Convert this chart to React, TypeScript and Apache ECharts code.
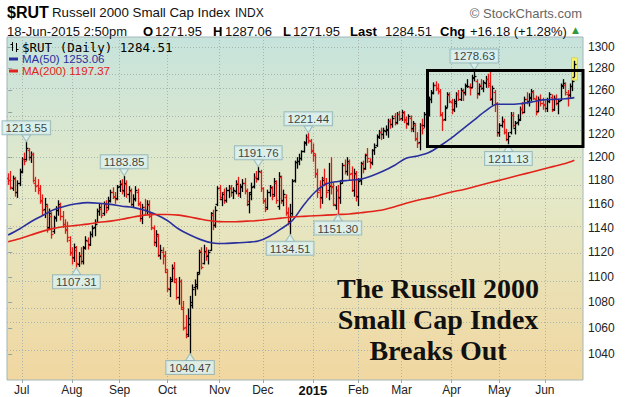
import React, { useEffect, useRef } from "react";
import * as echarts from "echarts";

// ---------------- DATA ----------------
// Daily OHLC bars [open, high, low, close], one array per month (Jun 23 2014 .. Jun 18 2015)
const jun14 = [
  [1182, 1186, 1176, 1180], [1180, 1188, 1172, 1174], [1173, 1184, 1171, 1182], [1181, 1183, 1166, 1170], [1170, 1180, 1165, 1178], [1178, 1190, 1175, 1187],
];
const jul14 = [
  [1188, 1200, 1186, 1198], [1198, 1204, 1193, 1197], [1198, 1213.55, 1197, 1208], [1206, 1208, 1197, 1200], [1200, 1205, 1195, 1203],
  [1203, 1204, 1178, 1180], [1178, 1183, 1170, 1175], [1176, 1181, 1168, 1172], [1173, 1176, 1160, 1163], [1162, 1168, 1150, 1155],
  [1156, 1165, 1148, 1160], [1158, 1160, 1136, 1140], [1141, 1156, 1139, 1152], [1150, 1153, 1131, 1135], [1137, 1150, 1135, 1148],
  [1149, 1158, 1145, 1155], [1155, 1163, 1150, 1160], [1158, 1161, 1146, 1150], [1150, 1154, 1140, 1143], [1143, 1147, 1135, 1138],
  [1139, 1145, 1128, 1132], [1130, 1133, 1117, 1120],
];
const aug14 = [
  [1119, 1124, 1110, 1115], [1116, 1127, 1112, 1124], [1122, 1125, 1107.31, 1111], [1110, 1120, 1108, 1117], [1118, 1124, 1110, 1113],
  [1113, 1125, 1110, 1123], [1124, 1133, 1122, 1130], [1129, 1132, 1122, 1126], [1127, 1137, 1125, 1135], [1135, 1142, 1132, 1140],
  [1141, 1147, 1133, 1143], [1145, 1156, 1144, 1154], [1154, 1160, 1150, 1157], [1156, 1160, 1148, 1151], [1152, 1162, 1150, 1160],
  [1160, 1163, 1152, 1155], [1157, 1166, 1155, 1162], [1163, 1172, 1161, 1170], [1170, 1174, 1164, 1167], [1166, 1170, 1160, 1164],
  [1165, 1176, 1163, 1174],
];
const sep14 = [
  [1175, 1180, 1170, 1177], [1178, 1181, 1168, 1171], [1172, 1183.85, 1166, 1178], [1177, 1180, 1165, 1168], [1168, 1175, 1161, 1172],
  [1171, 1173, 1158, 1160], [1160, 1168, 1157, 1165], [1164, 1175, 1162, 1172], [1170, 1173, 1158, 1161], [1160, 1162, 1145, 1148],
  [1148, 1160, 1143, 1157], [1157, 1164, 1150, 1155], [1155, 1163, 1151, 1160], [1159, 1163, 1148, 1152], [1150, 1152, 1138, 1141],
  [1140, 1142, 1125, 1128], [1128, 1138, 1124, 1135], [1133, 1135, 1116, 1118], [1118, 1126, 1114, 1122], [1120, 1124, 1110, 1118],
  [1117, 1121, 1103, 1106],
];
const oct14 = [
  [1104, 1106, 1088, 1091], [1090, 1100, 1084, 1097], [1098, 1110, 1096, 1107], [1108, 1112, 1095, 1098], [1096, 1099, 1082, 1084],
  [1084, 1100, 1078, 1097], [1097, 1098, 1074, 1076], [1075, 1081, 1058, 1060], [1061, 1070, 1052, 1054], [1055, 1075, 1053, 1068],
  [1063, 1085, 1040.47, 1080], [1078, 1094, 1075, 1090], [1092, 1098, 1085, 1094], [1093, 1104, 1090, 1102], [1104, 1122, 1102, 1120],
  [1121, 1124, 1106, 1108], [1111, 1126, 1110, 1121], [1120, 1124, 1113, 1118], [1117, 1122, 1110, 1120], [1122, 1153, 1121, 1152],
  [1151, 1155, 1138, 1143], [1142, 1158, 1140, 1155], [1160, 1175, 1158, 1173],
];
const nov14 = [
  [1173, 1176, 1163, 1166], [1164, 1170, 1158, 1168], [1170, 1173, 1160, 1163], [1163, 1174, 1161, 1172], [1172, 1176, 1165, 1173],
  [1173, 1176, 1166, 1170], [1170, 1174, 1164, 1172], [1171, 1180, 1168, 1177], [1178, 1183, 1166, 1169], [1169, 1177, 1165, 1175],
  [1174, 1181, 1170, 1178], [1178, 1182, 1168, 1172], [1171, 1173, 1158, 1162], [1160, 1170, 1152, 1168], [1170, 1178, 1163, 1174],
  [1175, 1186, 1173, 1183], [1183, 1188, 1178, 1181], [1182, 1191.76, 1180, 1188], [1187, 1189, 1170, 1173],
];
const dec14 = [
  [1173, 1174, 1160, 1163], [1162, 1165, 1153, 1156], [1157, 1172, 1155, 1170], [1170, 1176, 1166, 1174], [1173, 1175, 1163, 1167],
  [1168, 1182, 1166, 1179], [1178, 1180, 1160, 1163], [1158, 1187, 1155, 1184], [1183, 1184, 1160, 1162], [1163, 1172, 1158, 1168],
  [1166, 1168, 1150, 1152], [1153, 1157, 1142, 1146], [1146, 1160, 1134.51, 1150], [1152, 1181, 1150, 1179], [1180, 1197, 1178, 1196],
  [1196, 1200, 1190, 1197], [1197, 1203, 1193, 1199], [1199, 1206, 1197, 1205], [1205, 1214, 1204, 1212], [1213, 1220, 1210, 1218],
  [1218, 1221.44, 1212, 1215], [1214, 1216, 1203, 1205],
];
const jan15 = [
  [1206, 1212, 1196, 1204], [1202, 1203, 1182, 1185], [1186, 1190, 1165, 1170], [1172, 1180, 1156, 1165], [1166, 1183, 1160, 1180],
  [1182, 1190, 1175, 1178], [1178, 1182, 1165, 1170], [1172, 1195, 1163, 1175], [1176, 1200, 1168, 1174], [1175, 1178, 1158, 1160],
  [1159, 1175, 1155, 1172], [1172, 1176, 1151.3, 1165], [1166, 1180, 1160, 1178], [1180, 1195, 1177, 1193], [1193, 1198, 1185, 1188],
  [1188, 1200, 1184, 1197], [1195, 1198, 1180, 1185], [1186, 1192, 1170, 1172], [1172, 1190, 1166, 1186], [1185, 1188, 1162, 1166],
];
const feb15 = [
  [1167, 1182, 1158, 1179], [1180, 1196, 1176, 1195], [1194, 1197, 1186, 1190], [1191, 1203, 1189, 1202], [1203, 1208, 1195, 1199],
  [1197, 1199, 1190, 1195], [1196, 1207, 1193, 1206], [1206, 1212, 1202, 1209], [1211, 1220, 1209, 1218], [1219, 1224, 1216, 1222],
  [1222, 1226, 1215, 1220], [1220, 1226, 1216, 1224], [1223, 1228, 1219, 1225], [1224, 1234, 1217, 1232], [1232, 1234, 1225, 1229],
  [1229, 1237, 1226, 1235], [1236, 1239, 1228, 1230], [1231, 1240, 1229, 1238], [1238, 1241, 1232, 1234],
];
const mar15 = [
  [1235, 1242, 1232, 1240], [1239, 1241, 1230, 1234], [1233, 1236, 1225, 1229], [1230, 1238, 1228, 1236], [1235, 1237, 1222, 1225],
  [1226, 1232, 1222, 1230], [1228, 1230, 1214, 1216], [1217, 1222, 1208, 1212], [1213, 1230, 1206, 1228], [1228, 1234, 1220, 1226],
  [1228, 1240, 1226, 1238], [1238, 1244, 1234, 1242], [1241, 1254, 1236, 1252], [1252, 1260, 1248, 1257], [1258, 1267, 1256, 1265],
  [1265, 1268, 1259, 1262], [1262, 1266, 1256, 1259], [1259, 1261, 1236, 1238], [1237, 1240, 1223, 1233], [1234, 1246, 1232, 1244],
  [1245, 1258, 1244, 1256], [1255, 1258, 1248, 1250],
];
const apr15 = [
  [1249, 1252, 1238, 1242], [1243, 1252, 1240, 1250], [1248, 1258, 1244, 1256], [1256, 1260, 1250, 1252], [1252, 1262, 1250, 1260],
  [1259, 1261, 1250, 1257], [1258, 1266, 1255, 1264], [1265, 1270, 1262, 1264], [1263, 1266, 1255, 1262], [1263, 1274, 1262, 1272],
  [1271, 1278.63, 1268, 1273], [1268, 1270, 1252, 1256], [1257, 1266, 1255, 1264], [1265, 1270, 1260, 1262], [1262, 1269, 1258, 1267],
  [1266, 1273, 1262, 1270], [1270, 1275, 1262, 1265], [1266, 1277, 1250, 1253], [1252, 1264, 1246, 1262], [1258, 1260, 1240, 1248],
  [1247, 1249, 1218, 1221],
];
const may15 = [
  [1222, 1230, 1218, 1228], [1228, 1236, 1226, 1232], [1231, 1234, 1220, 1222], [1222, 1225, 1214, 1216], [1216, 1222, 1211.13, 1219],
  [1222, 1240, 1220, 1237], [1237, 1240, 1226, 1228], [1226, 1232, 1220, 1230], [1231, 1238, 1228, 1233], [1234, 1245, 1232, 1243],
  [1243, 1249, 1238, 1240], [1240, 1254, 1239, 1252], [1252, 1258, 1247, 1250], [1250, 1257, 1245, 1254], [1253, 1261, 1250, 1259],
  [1258, 1260, 1251, 1253], [1252, 1255, 1237, 1240], [1241, 1254, 1240, 1252], [1251, 1256, 1245, 1248], [1248, 1253, 1242, 1246],
];
const jun15 = [
  [1247, 1252, 1240, 1244], [1244, 1253, 1240, 1250], [1250, 1258, 1248, 1256], [1254, 1256, 1240, 1242], [1243, 1255, 1241, 1253],
  [1253, 1256, 1246, 1248], [1248, 1252, 1238, 1250], [1251, 1266, 1250, 1264], [1265, 1270, 1261, 1266], [1265, 1267, 1255, 1258],
  [1256, 1260, 1245, 1256], [1255, 1266, 1253, 1264], [1264, 1272, 1259, 1268.33], [1271.95, 1287.06, 1271.95, 1284.51],
];
const monthBars = [jun14, jul14, aug14, sep14, oct14, nov14, dec14, jan15, feb15, mar15, apr15, may15, jun15];
const monthLabels = ["", "Jul", "Aug", "Sep", "Oct", "Nov", "Dec", "2015", "Feb", "Mar", "Apr", "May", "Jun"];

// Moving averages, sampled at these trading-day indices
const maIdx = [0, 5, 10, 15, 20, 25, 30, 35, 40, 45, 50, 55, 60, 65, 70, 75, 80, 85, 90, 95, 100, 105, 110, 115, 120, 125, 130, 135, 140, 145, 150, 155, 160, 165, 170, 175, 180, 185, 190, 195, 200, 205, 210, 215, 220, 225, 230, 235, 240, 245, 249];
const ma50 = [1134, 1139, 1145, 1150, 1155, 1158, 1160, 1161, 1160.5, 1159.5, 1158, 1157, 1154.5, 1151, 1146, 1139, 1134, 1130, 1127.5, 1127, 1127.5, 1128, 1129, 1133, 1139, 1146, 1159, 1170, 1177, 1179, 1180, 1181, 1184, 1188, 1193, 1199, 1201, 1204, 1210, 1217, 1225, 1233, 1241, 1247, 1247, 1247.5, 1249, 1251, 1251.5, 1252, 1253.06];
const ma200 = [1128.5, 1131, 1134, 1137, 1139.5, 1141, 1142, 1143, 1144.5, 1145.5, 1147, 1149, 1150.5, 1151, 1151, 1150.5, 1149, 1147, 1145.5, 1145, 1145, 1145.5, 1146, 1147, 1148, 1149, 1149.5, 1150, 1150.5, 1151, 1151.5, 1152.5, 1153.5, 1155, 1157.5, 1160.5, 1163, 1165, 1167.5, 1170, 1172, 1174.5, 1177, 1179.5, 1182, 1184.5, 1187, 1189.5, 1192, 1194.5, 1197.37];

// Annotated highs / lows: [bar index, side]
const callouts: [number, string][] = [
  [8, "top"], [30, "bottom"], [51, "top"], [80, "bottom"], [110, "top"],
  [124, "bottom"], [132, "top"], [145, "bottom"], [205, "top"], [220, "bottom"],
];

const yTicks = [1040, 1060, 1080, 1100, 1120, 1140, 1160, 1180, 1200, 1220, 1240, 1260, 1280, 1300];
const yMin = 1020.6;
const yMax = 1309.5;
const headerText = { symbol: "$RUT", name: "Russell 2000 Small Cap Index", exch: "INDX", stamp: "18-Jun-2015 2:50pm" };
const noteLines = ["The Russell 2000", "Small Cap Index", "Breaks Out"];

// ---------------- CHART ----------------
const SANS = '"Liberation Sans", Arial, sans-serif';
const ln = Math.log;

function txt(text: string, x: number, y: number, size: number, o: any = {}) {
  return {
    type: "text", x, y, z: 100, silent: true,
    style: {
      text, fontSize: size, fontFamily: o.family || SANS, fontWeight: o.bold ? "bold" : "normal",
      fill: o.color || "#111", textAlign: o.align || "left", textVerticalAlign: "middle",
    },
  };
}

function buildOption() {
  const bars: number[][] = ([] as number[][]).concat(...monthBars);
  const monthStarts: number[] = [];
  const labelAt: Record<number, string> = {};
  let acc = 0;
  monthBars.forEach((m, k) => {
    if (k > 0) { monthStarts.push(acc); labelAt[acc] = monthLabels[k]; }
    acc += m.length;
  });
  const n = bars.length;
  const last = bars[n - 1];
  const prevClose = bars[n - 2][3];
  const chg = last[3] - prevClose;
  const pct = (chg / prevClose) * 100;

  const ohlcData = bars.map((b, i) => {
    const pc = i > 0 ? bars[i - 1][3] : b[0];
    return [i, ln(b[0]), ln(b[1]), ln(b[2]), ln(b[3]), b[3] >= pc ? 1 : 0, i === n - 1 ? 1 : 0];
  });

  const downTri = "path://M0,0L8,0L4,7Z";
  const upTri = "path://M4,0L8,7L0,7Z";
  const boxFill = "#dcf1f1";
  const boxBorder = "#8fb1b4";

  const yTickLn = yTicks.map(ln);

  const gridLines = [
    ...yTickLn.map((v) => ({ yAxis: v })),
    ...monthStarts.map((v) => ({ xAxis: v })),
  ];

  const graphic: any[] = [
    txt(headerText.symbol, 7, 12, 16, { bold: true, color: "#000" }),
    txt(headerText.name, 52, 12.5, 13.3, { color: "#111" }),
    txt(headerText.exch, 235, 13, 12, { color: "#111" }),
    txt("\u00a9 StockCharts.com", 582, 13, 13, { color: "#666", align: "right" }),
    txt(headerText.stamp, 7, 31, 13),
    txt("O", 143, 31, 13, { bold: true, color: "#000" }),
    txt(last[0].toFixed(2), 155, 31, 13),
    txt("H", 213, 31, 13, { bold: true, color: "#000" }),
    txt(last[1].toFixed(2), 225, 31, 13),
    txt("L", 283, 31, 13, { bold: true, color: "#000" }),
    txt(last[2].toFixed(2), 293, 31, 13),
    txt("Last", 350, 31, 13, { bold: true, color: "#000" }),
    txt(last[3].toFixed(2), 385, 31, 13),
    txt("Chg", 440, 31, 13, { bold: true, color: "#000" }),
    txt(`+${chg.toFixed(2)} (+${pct.toFixed(2)}%)`, 470, 31, 13),
    txt("\u25b2", 572, 30, 9, { color: "#2e9a3c", family: '"DejaVu Sans", sans-serif' }),
    // legend
    { type: "line", z: 100, silent: true, shape: { x1: 12.5, y1: 42, x2: 12.5, y2: 51 }, style: { stroke: "#000", lineWidth: 1 } },
    { type: "line", z: 100, silent: true, shape: { x1: 10.5, y1: 44.5, x2: 12.5, y2: 44.5 }, style: { stroke: "#000", lineWidth: 1 } },
    { type: "line", z: 100, silent: true, shape: { x1: 16.5, y1: 43, x2: 16.5, y2: 52 }, style: { stroke: "#000", lineWidth: 1 } },
    { type: "line", z: 100, silent: true, shape: { x1: 16.5, y1: 49.5, x2: 18.5, y2: 49.5 }, style: { stroke: "#000", lineWidth: 1 } },
    txt(`${headerText.symbol} (Daily) ${last[3].toFixed(2)}`, 22, 47, 12.5, { family: '"DejaVu Sans Mono", monospace', color: "#000" }),
    { type: "rect", z: 100, silent: true, shape: { x: 9, y: 57.5, width: 9, height: 3 }, style: { fill: "#2a2f9e" } },
    txt(`MA(50) ${ma50[ma50.length - 1].toFixed(2)}`, 22, 59, 11.5, { color: "#2a2f9e" }),
    { type: "rect", z: 100, silent: true, shape: { x: 9, y: 69.5, width: 9, height: 3 }, style: { fill: "#e2231b" } },
    txt(`MA(200) ${ma200[ma200.length - 1].toFixed(2)}`, 22, 71, 11.5, { color: "#e2231b" }),
    // highlight box
    { type: "rect", z: 90, silent: true, shape: { x: 427.5, y: 70.5, width: 155.5, height: 76 }, style: { fill: "none", stroke: "#000", lineWidth: 3 } },
    // note
    ...noteLines.map((t, k) =>
      txt(t, 438, 288.5 + k * 31, 28, { bold: true, color: "#111", align: "center", family: '"Liberation Serif", "Times New Roman", serif' })
    ),
  ];

  return {
    animation: false,
    backgroundColor: "#ffffff",
    grid: {
      left: 7, right: 43, top: 37, bottom: 17, show: true,
      borderColor: "#a3b6b9", borderWidth: 1,
      backgroundColor: new echarts.graphic.LinearGradient(0, 0, 0, 1, [
        { offset: 0, color: "#c6e3dc" },
        { offset: 0.45, color: "#e4e9c8" },
        { offset: 1, color: "#f1d7a0" },
      ]),
    },
    xAxis: {
      type: "value", min: -0.5, max: 252.8,
      axisLine: { show: false }, splitLine: { show: false },
      axisTick: { show: true, customValues: monthStarts, length: 3, lineStyle: { color: "#9aa" } },
      axisLabel: {
        customValues: monthStarts, margin: 4, color: "#222", fontSize: 12, fontFamily: SANS,
        formatter: (v: number) => {
          const s = labelAt[Math.round(v)] || "";
          return s === "2015" ? "{b|2015}" : s;
        },
        rich: { b: { fontWeight: "bold", fontSize: 13, fontFamily: SANS, color: "#111" } },
      },
    },
    yAxis: {
      type: "value", position: "right", min: ln(yMin), max: ln(yMax),
      axisLine: { show: false }, splitLine: { show: false },
      axisTick: { show: true, customValues: yTickLn, length: 4, lineStyle: { color: "#8fa5a8" } },
      axisLabel: {
        customValues: yTickLn, margin: 5, color: "#222", fontSize: 12, fontFamily: SANS,
        formatter: (v: number) => String(Math.round(Math.exp(v))),
      },
    },
    series: [
      {
        type: "custom", name: "RUT", z: 3, clip: true,
        data: ohlcData,
        encode: { x: 0, y: [1, 2, 3, 4] },
        renderItem: (_p: any, api: any) => {
          const i = api.value(0);
          const pO = api.coord([i, api.value(1)]);
          const pH = api.coord([i, api.value(2)]);
          const pL = api.coord([i, api.value(3)]);
          const pC = api.coord([i, api.value(4)]);
          const up = api.value(5) > 0;
          const isLast = api.value(6) > 0;
          const x = Math.round(pO[0]) + 0.5;
          const color = up ? "#000000" : "#e41b17";
          const st = { stroke: color, lineWidth: 1.3 };
          const yo = Math.round(pO[1]) + 0.5;
          const yc = Math.round(pC[1]) + 0.5;
          const children: any[] = [];
          if (isLast) {
            children.push({
              type: "rect",
              shape: { x: x - 3, y: pH[1] - 3, width: 6, height: pL[1] - pH[1] + 6 },
              style: { fill: "#f6f46a", stroke: "#d3cc45", lineWidth: 0.8 },
            });
          }
          children.push({ type: "line", shape: { x1: x, y1: pH[1], x2: x, y2: pL[1] }, style: st });
          children.push({ type: "line", shape: { x1: x - 2, y1: yo, x2: x, y2: yo }, style: st });
          children.push({ type: "line", shape: { x1: x, y1: yc, x2: x + 2, y2: yc }, style: st });
          return { type: "group", children };
        },
      },
      {
        type: "line", name: "MA(50)", z: 4, smooth: 0.3, showSymbol: false, silent: true,
        data: maIdx.map((i, k) => [i, ln(ma50[k])]),
        lineStyle: { color: "#2a2f9e", width: 1.6 },
      },
      {
        type: "line", name: "MA(200)", z: 4, smooth: 0.3, showSymbol: false, silent: true,
        data: maIdx.map((i, k) => [i, ln(ma200[k])]),
        lineStyle: { color: "#e2231b", width: 1.6 },
        markLine: {
          silent: true, z: 1, symbol: ["none", "none"], animation: false,
          label: { show: false }, emphasis: { disabled: true },
          lineStyle: { color: "#a9b6ae", type: [1, 2], width: 1 },
          data: gridLines,
        },
      },
      {
        type: "scatter", name: "callouts", z: 8, silent: true,
        symbolSize: [9, 7],
        itemStyle: { color: boxFill, borderColor: boxBorder, borderWidth: 1 },
        label: {
          show: true, formatter: "{b}", fontSize: 11.5, fontFamily: SANS, color: "#111",
          backgroundColor: boxFill, borderColor: boxBorder, borderWidth: 1, padding: [1, 3, 0, 3], lineHeight: 12,
        },
        data: callouts.map(([i, side]) => {
          const v = side === "top" ? bars[i][1] : bars[i][2];
          return {
            name: v.toFixed(2),
            value: [i, ln(v)],
            symbol: side === "top" ? downTri : upTri,
            symbolOffset: [0, side === "top" ? -3.5 : 3.5],
            label: { position: side, distance: 0 },
          };
        }),
      },
    ],
    graphic,
  };
}

export default function App() {
  const ref = useRef<HTMLDivElement>(null);
  useEffect(() => {
    document.body.style.margin = "0";
    const chart = echarts.init(ref.current as HTMLDivElement, null, { renderer: "svg" });
    chart.setOption(buildOption() as any);
    return () => chart.dispose();
  }, []);
  return <div ref={ref} style={{ width: 626, height: 397, background: "#fff" }} />;
}
